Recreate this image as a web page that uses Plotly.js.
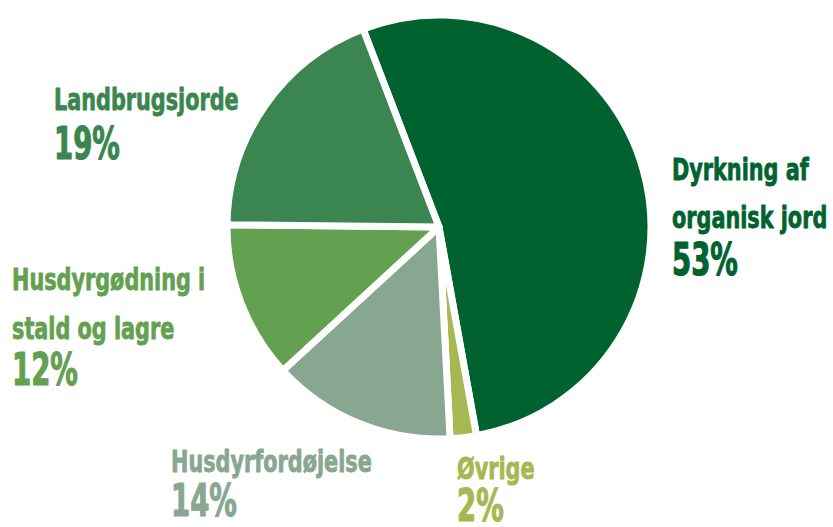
<!DOCTYPE html>
<html>
<head>
<meta charset="utf-8">
<script src="https://cdn.plot.ly/plotly-3.0.1.min.js"></script>
<style>html,body{margin:0;padding:0;background:#fff;}#chart{width:833px;height:527px;}</style>
</head>
<body>
<div id="chart"></div>
<script>
// Data
const categories = ["Dyrkning af organisk jord", "Øvrige", "Husdyrfordøjelse", "Husdyrgødning i stald og lagre", "Landbrugsjorde"];
const values = [53, 2, 14, 12, 19];
const labelLines = [["Dyrkning af", "organisk jord"], ["Øvrige"], ["Husdyrfordøjelse"], ["Husdyrgødning i", "stald og lagre"], ["Landbrugsjorde"]];
const pctLabels = ["53%", "2%", "14%", "12%", "19%"];
const colors = ["#00632f", "#a5b851", "#88a790", "#63a151", "#3b8650"];

// Label placement (pixels: left x, centre y of first name line, centre y of percentage)
const W = 833, H = 527;
const labelPos = [
  {x: 670, y: 169, py: 259},
  {x: 455, y: 468, py: 505},
  {x: 169, y: 461, py: 500},
  {x: 10, y: 279, py: 369},
  {x: 52, y: 99, py: 143}
];
const lineStep = 49;
const FONT = '"DejaVu Sans Condensed", "Liberation Sans Narrow", sans-serif';
const NAME_SIZE = 30, PCT_SIZE = 45;
const NAME_SQUEEZE = 0.77, PCT_SQUEEZE = 0.68;

const annotations = [];
categories.forEach((c, i) => {
  const p = labelPos[i];
  let y = p.y;
  labelLines[i].forEach((ln, k) => {
    if (k > 0) y += lineStep;
    annotations.push({
      xref: 'paper', yref: 'paper', x: p.x / W, y: 1 - y / H,
      xanchor: 'left', yanchor: 'middle', showarrow: false,
      text: '<b>' + ln + '</b>',
      font: {family: FONT, size: NAME_SIZE, color: colors[i]}
    });
  });
  annotations.push({
    xref: 'paper', yref: 'paper', x: p.x / W, y: 1 - p.py / H,
    xanchor: 'left', yanchor: 'middle', showarrow: false,
    text: '<b>' + pctLabels[i] + '</b>',
    font: {family: FONT, size: PCT_SIZE, color: colors[i]}
  });
});

const trace = {
  type: 'pie',
  labels: categories,
  values: values,
  sort: false,
  direction: 'clockwise',
  rotation: -21,
  textinfo: 'none',
  hoverinfo: 'label+percent',
  marker: {colors: colors, line: {color: '#ffffff', width: 7}},
  domain: {x: [227 / W, 651 / W], y: [(H - 439) / H, (H - 15) / H]}
};

const layout = {
  width: W, height: H,
  margin: {l: 0, r: 0, t: 0, b: 0},
  paper_bgcolor: '#ffffff',
  plot_bgcolor: '#ffffff',
  showlegend: false,
  annotations: annotations
};

Plotly.newPlot('chart', [trace], layout, {displayModeBar: false, staticPlot: true}).then(() => {
  // condense and embolden label glyphs (the original uses a heavy condensed display face)
  document.querySelectorAll('#chart .annotation-text').forEach(t => {
    const fs = parseFloat(t.style.fontSize || window.getComputedStyle(t).fontSize);
    const s = fs > 38 ? PCT_SQUEEZE : NAME_SQUEEZE;
    const bb = t.getBBox();
    const L = bb.x;
    const prev = t.getAttribute('transform') || '';
    t.setAttribute('transform', prev + ' translate(' + L + ',0) scale(' + s + ',1) translate(' + (-L) + ',0)');
    const fill = t.style.fill || window.getComputedStyle(t).fill;
    t.style.stroke = fill;
    t.style.strokeWidth = fs > 38 ? '1.2px' : '0.8px';
    t.style.strokeLinejoin = 'round';
  });
});
</script>
</body>
</html>
